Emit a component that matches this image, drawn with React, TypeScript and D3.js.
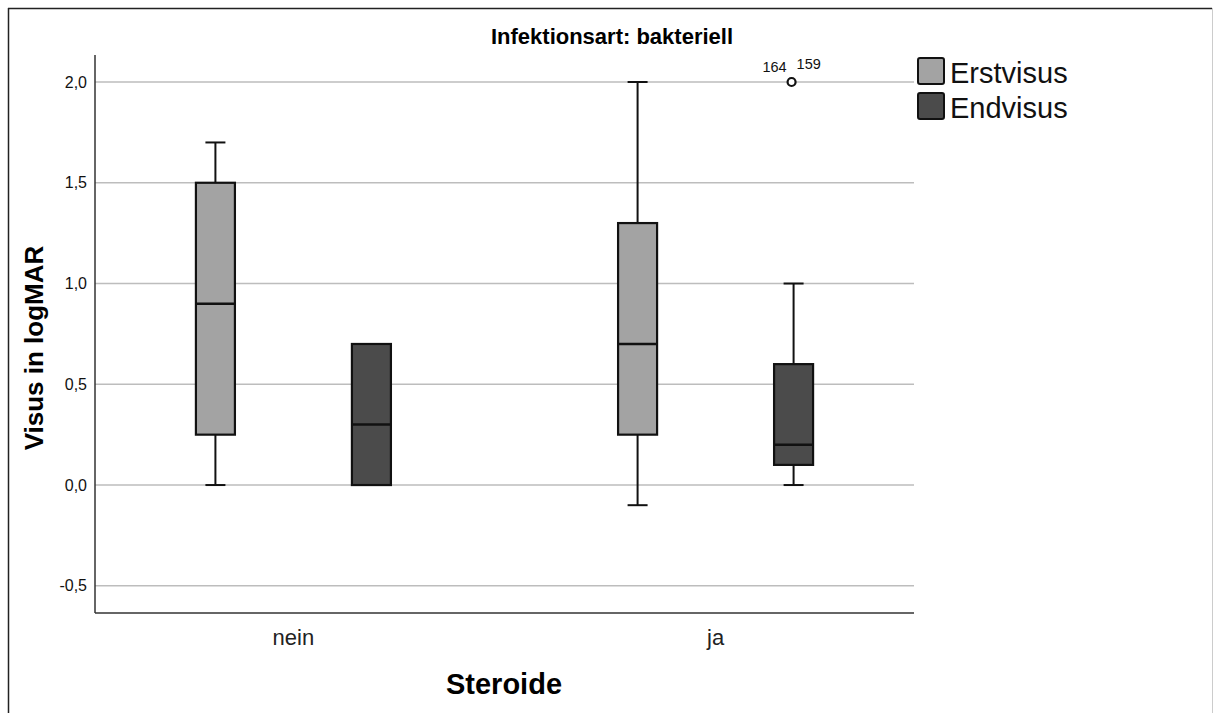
import React from 'react';
import * as d3 from 'd3';

// Data
const categories = ['nein', 'ja'];
const seriesNames = ['Erstvisus', 'Endvisus'];
const seriesColors = ['#a3a3a3', '#4b4b4b'];

// five-number summaries per category: [min, q1, median, q3, max]
const erstvisus = [
  [0, 0.25, 0.9, 1.5, 1.7],
  [-0.1, 0.25, 0.7, 1.3, 2.0],
];
const endvisus = [
  [0, 0, 0.3, 0.7, 0.7],
  [0, 0.1, 0.2, 0.6, 1.0],
];

const outlierCategory = ['ja'];
const outlierSeries = ['Endvisus'];
const outlierValues = [2.0];
const outlierLabels = [['164', '159']];

const yTicks = [-0.5, 0, 0.5, 1, 1.5, 2];

const FONT = '"Liberation Sans", Arial, sans-serif';

export default function App() {
  const width = 1214, height = 713;
  const left = 95, right = 914, top = 55, bottom = 613;

  const x = d3.scalePoint().domain(categories).range([left, right]).padding(0.47);
  const inner = d3.scalePoint().domain(seriesNames).range([-78, 78]);
  const y = d3.scaleLinear().domain([-0.635, 2.134]).range([bottom, top]);
  const color = d3.scaleOrdinal<string, string>().domain(seriesNames).range(seriesColors);
  const fmt = (v: number) => d3.format('.1f')(v).replace('.', ',').replace('−', '-');

  const boxW = 39, capW = 20;
  const allSeries = [erstvisus, endvisus];

  return (
    <svg width={width} height={height} style={{ position: 'absolute', left: 0, top: 0, background: '#fff' }}>
      {/* frame */}
      <line x1={8} y1={8.5} x2={1212} y2={8.5} stroke="#222" strokeWidth={1.5} />
      <line x1={8.5} y1={8} x2={8.5} y2={713} stroke="#222" strokeWidth={1.5} />
      <line x1={1212.5} y1={8} x2={1212.5} y2={713} stroke="#ccc" strokeWidth={1} />

      {/* title */}
      <text x={612} y={44} textAnchor="middle" fontFamily={FONT} fontWeight="bold" fontSize={22}>
        Infektionsart: bakteriell
      </text>

      {/* grid lines */}
      {yTicks.map(t => (
        <line key={'g' + t} x1={left} x2={right} y1={y(t)} y2={y(t)} stroke="#bdbdbd" strokeWidth={1.6} />
      ))}
      {/* y tick labels */}
      {yTicks.map(t => (
        <text key={'t' + t} x={87} y={y(t)} dy="0.35em" textAnchor="end" fontFamily={FONT} fontSize={16} fill="#111">
          {fmt(t)}
        </text>
      ))}

      {/* axes */}
      <line x1={left} x2={left} y1={top} y2={bottom} stroke="#333" strokeWidth={1.5} />
      <line x1={left} x2={right} y1={bottom} y2={bottom} stroke="#333" strokeWidth={1.5} />

      {/* category labels */}
      {categories.map(c => (
        <text key={c} x={x(c)} y={645} textAnchor="middle" fontFamily={FONT} fontSize={22} fill="#222">
          {c}
        </text>
      ))}

      {/* boxes */}
      {allSeries.map((series, si) =>
        categories.map((c, ci) => {
          const [mn, q1, med, q3, mx] = series[ci];
          const cx = (x(c) as number) + (inner(seriesNames[si]) as number);
          return (
            <g key={si + '-' + ci}>
              {mx > q3 && (
                <>
                  <line x1={cx} x2={cx} y1={y(q3)} y2={y(mx)} stroke="#111" strokeWidth={2} />
                  <line x1={cx - capW / 2} x2={cx + capW / 2} y1={y(mx)} y2={y(mx)} stroke="#111" strokeWidth={2} />
                </>
              )}
              {mn < q1 && (
                <>
                  <line x1={cx} x2={cx} y1={y(q1)} y2={y(mn)} stroke="#111" strokeWidth={2} />
                  <line x1={cx - capW / 2} x2={cx + capW / 2} y1={y(mn)} y2={y(mn)} stroke="#111" strokeWidth={2} />
                </>
              )}
              <rect x={cx - boxW / 2} y={y(q3)} width={boxW} height={y(q1) - y(q3)}
                fill={color(seriesNames[si])} stroke="#111" strokeWidth={2.2} />
              <line x1={cx - boxW / 2} x2={cx + boxW / 2} y1={y(med)} y2={y(med)} stroke="#111" strokeWidth={2.5} />
            </g>
          );
        })
      )}

      {/* outliers */}
      {outlierValues.map((v, i) => {
        const cx = (x(outlierCategory[i]) as number) + (inner(outlierSeries[i]) as number) - 2;
        const cy = y(v);
        return (
          <g key={'o' + i}>
            <circle cx={cx} cy={cy} r={4} fill="#fff" stroke="#111" strokeWidth={2.2} />
            <text x={cx - 5} y={cy - 10} textAnchor="end" fontFamily={FONT} fontSize={14.5} fill="#111">
              {outlierLabels[i][0]}
            </text>
            <text x={cx + 5} y={cy - 13} textAnchor="start" fontFamily={FONT} fontSize={14.5} fill="#111">
              {outlierLabels[i][1]}
            </text>
          </g>
        );
      })}

      {/* axis titles */}
      <text transform="translate(43,348) rotate(-90)" textAnchor="middle" fontFamily={FONT} fontWeight="bold" fontSize={26}>
        Visus in logMAR
      </text>
      <text x={504} y={694} textAnchor="middle" fontFamily={FONT} fontWeight="bold" fontSize={29}>
        Steroide
      </text>

      {/* legend */}
      {seriesNames.map((s, i) => (
        <g key={'l' + s} transform={`translate(917,${57 + i * 35})`}>
          <rect x={1} y={1} width={26} height={26} rx={2} fill={color(s)} stroke="#111" strokeWidth={2} />
          <text x={33} y={26} fontFamily={FONT} fontSize={29} fill="#111">{s}</text>
        </g>
      ))}
    </svg>
  );
}
